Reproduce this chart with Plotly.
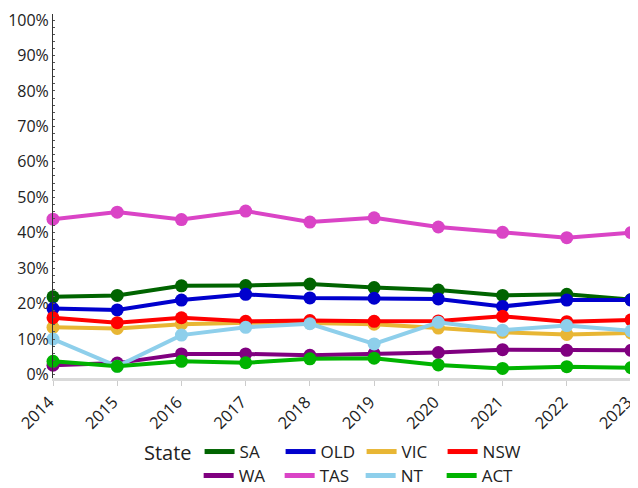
import plotly.graph_objects as go

annees = [2014, 2015, 2016, 2017, 2018, 2019, 2020, 2021, 2022, 2023]
etats = ['SA', 'QLD', 'VIC', 'NSW', 'WA', 'TAS', 'NT', 'ACT']

sa = [0.219, 0.223, 0.250, 0.251, 0.255, 0.245, 0.238, 0.223, 0.226, 0.211]
qld = [0.186, 0.182, 0.210, 0.226, 0.216, 0.215, 0.213, 0.192, 0.210, 0.210]
vic = [0.133, 0.130, 0.142, 0.146, 0.145, 0.142, 0.131, 0.119, 0.113, 0.117]
nsw = [0.160, 0.146, 0.160, 0.150, 0.152, 0.150, 0.151, 0.164, 0.149, 0.154]
wa = [0.026, 0.032, 0.058, 0.058, 0.054, 0.059, 0.062, 0.070, 0.068, 0.068]
tas = [0.438, 0.458, 0.437, 0.461, 0.430, 0.442, 0.416, 0.401, 0.386, 0.400]
nt = [0.100, 0.023, 0.111, 0.133, 0.143, 0.086, 0.147, 0.125, 0.138, 0.123]
act = [0.037, 0.023, 0.037, 0.033, 0.044, 0.046, 0.027, 0.017, 0.022, 0.019]

series = [sa, qld, vic, nsw, wa, tas, nt, act]
couleurs = ['#006400', '#0000CD', '#E8B634', '#FF0000', '#800080', '#DA44C6', '#8ECFEB', '#00B300']

fig = go.Figure()
for nom, valeurs, couleur in zip(etats, series, couleurs):
    fig.add_trace(go.Scatter(x=annees, y=valeurs, mode='lines+markers', name=nom,
                             line=dict(color=couleur, width=4),
                             marker=dict(color=couleur, size=13),
                             cliponaxis=False, showlegend=False))
# legende sur deux rangees de 4: simple trait, sans marqueur
for i, (nom, couleur) in enumerate(zip(etats, couleurs)):
    fig.add_trace(go.Scatter(x=[None], y=[None], mode='lines', name=nom,
                             line=dict(color=couleur, width=5),
                             legend='legend' if i < 4 else 'legend2'))

# la page ajoute une marge de 8px autour de la figure
fig.update_layout(
    width=638, height=488,
    margin=dict(l=45, r=15, t=6, b=117.5),
    plot_bgcolor='white', paper_bgcolor='white',
    font=dict(family='Open Sans', size=17, color='#222'),
    xaxis=dict(tickmode='array', tickvals=annees, ticktext=[str(a) for a in annees],
               range=[2014, 2023], tickangle=-45, showgrid=False, zeroline=False,
               showline=True, linecolor='#d9d9d9', linewidth=3, ticklabeloverflow='allow',
               ticks='outside', ticklen=5, tickcolor='#cccccc', tickfont=dict(size=16.5),
               ticklabelshift=-4, automargin=False),
    yaxis=dict(range=[-0.01, 1.017], tickvals=[i / 10 for i in range(11)], tickformat='.0%',
               showgrid=False, zeroline=False, showline=True, linecolor='#333', linewidth=1,
               ticks='', tickfont=dict(size=16), automargin=False, ticklabeloverflow='allow',
               minor=dict(dtick=0.02, ticks='inside', ticklen=2, tickcolor='#555')),
    legend=dict(orientation='h', x=0.154, xanchor='left', yref='container', y=0.0902,
                yanchor='middle', entrywidth=36, title=dict(text='State', side='left'),
                font=dict(size=17), tracegroupgap=0),
    legend2=dict(orientation='h', x=0.252, xanchor='left', yref='container', y=0.041,
                 yanchor='middle', entrywidth=36, font=dict(size=17), tracegroupgap=0),
)

fig.write_html("out.html")
